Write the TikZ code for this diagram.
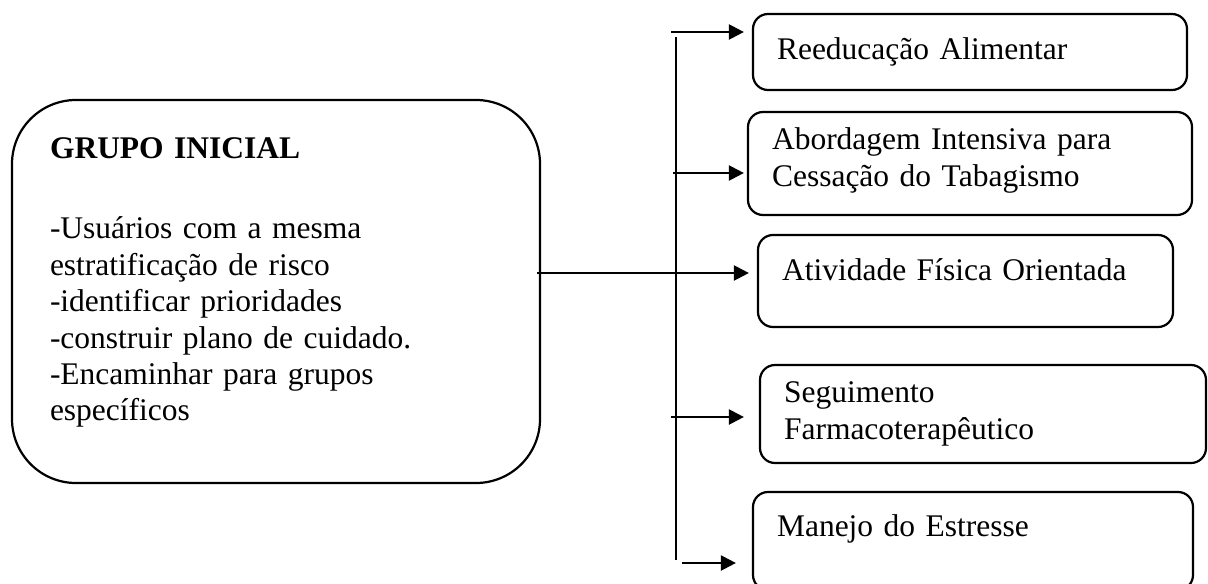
\documentclass[tikz,border=0pt]{standalone}
\usepackage{fontspec}
\setmainfont{Liberation Serif}
\usetikzlibrary{arrows.meta}

\begin{document}
\begin{tikzpicture}[x=.5pt,y=-.5pt,line width=1.1pt,
    font=\fontsize{15.75}{18.2}\selectfont,
    bigbox/.style={draw,rounded corners=32pt,align=left,inner xsep=19pt,inner ysep=0pt},
    smallbox/.style={draw,rounded corners=7.5pt,align=left,inner xsep=12pt,inner ysep=0pt},
    arr/.style={-{Triangle[length=7.5pt,width=7.5pt]},shorten >=4pt}]
  \clip (0,0) rectangle (1208,583);

  \node[bigbox,text width=226pt,minimum height=191.5pt,text height=1.8pt] (A) at (276,291.5)
    {\textbf{GRUPO INICIAL}\\[21.8pt]
     -Usuários com a mesma\\
     estratificação de risco\\
     -identificar prioridades\\
     -construir plano de cuidado.\\
     -Encaminhar para grupos\\
     específicos};

  \node[smallbox,text width=193pt,minimum height=38pt] (B) at (970,52) {Reeducação Alimentar};
  \node[smallbox,text width=198pt,minimum height=51.5pt,text height=7.8pt] (C) at (970,163.5)
    {Abordagem Intensiva para\\ Cessação do Tabagismo};
  \node[smallbox,text width=183.5pt,minimum height=46pt,text depth=11pt] (D) at (965.5,281) {Atividade Física Orientada};
  \node[smallbox,text width=199pt,minimum height=49pt] (E) at (983,414)
    {Seguimento\\ Farmacoterapêutico};
  \node[smallbox,text width=196pt,minimum height=49pt,text depth=15.4pt] (F) at (973,541) {Manejo do Estresse};

  \coordinate (bt) at (676,37);
  \coordinate (bb) at (676,560);
  \coordinate (a1) at (671,32);
  \coordinate (a2) at (673,173);
  \coordinate (a3) at (537,273);
  \coordinate (a4) at (671,417);
  \coordinate (a5) at (682,563);

  \draw (bt) -- (bb);
  \draw[arr] (a1) -- (a1 -| B.west);
  \draw[arr,shorten >=1.5pt] (a2) -- (a2 -| C.west);
  \draw[arr] (a3) -- (a3 -| D.west);
  \draw[arr,shorten >=7.5pt] (a4) -- (a4 -| E.west);
  \draw[arr,shorten >=8pt] (a5) -- (a5 -| F.west);
\end{tikzpicture}
\end{document}
